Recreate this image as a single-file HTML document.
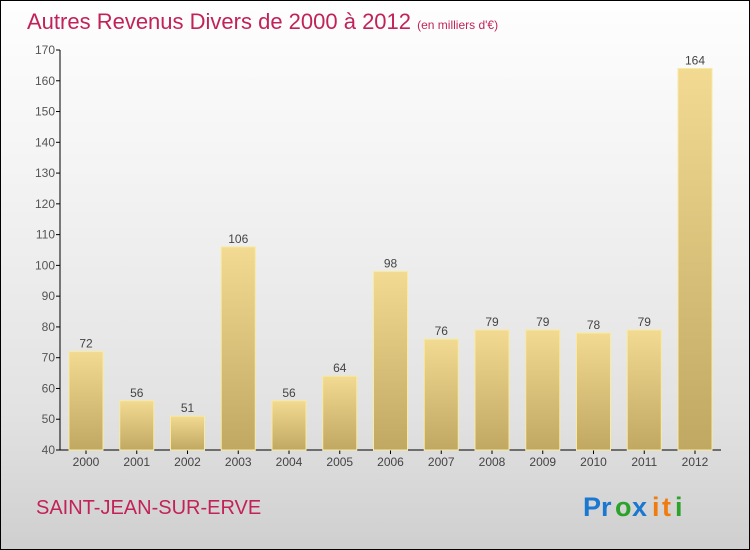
<!DOCTYPE html>
<html><head><meta charset="utf-8"><style>
body{margin:0}
#c{width:750px;height:550px;position:relative;overflow:hidden;box-sizing:border-box;border:1px solid #000;background:linear-gradient(#fefefe,#f4f4f4 30%,#e2e2e2 75%,#cfcfcf);font-family:"Liberation Sans",sans-serif}
</style></head><body>
<div id="c">
<svg width="750" height="550" style="position:absolute;left:-1px;top:-1px">
<defs><linearGradient id="g" x1="0" y1="0" x2="0" y2="1"><stop offset="0" stop-color="#f3da92"/><stop offset="1" stop-color="#c0a863"/></linearGradient></defs>
<text x="27" y="29" font-size="22" fill="#c2225a">Autres Revenus Divers de 2000 à 2012 <tspan font-size="12">(en milliers d'€)</tspan></text>
<g id="axes"></g><g id="bars"></g>
<text x="36" y="514" font-size="20" fill="#c2225a">SAINT-JEAN-SUR-ERVE</text>
<g font-size="27" font-weight="bold"><text x="583" y="516" fill="#1b78d0">Pr</text><text x="615" y="516" fill="#2ba32b">o</text><text x="632" y="516" fill="#1b78d0">x</text><text x="652" y="516" fill="#f07c10">i</text><text x="662" y="516" fill="#f07c10">t</text><text x="675" y="516" fill="#2ba32b">i</text></g>
</svg>
<script>
const years=["2000","2001","2002","2003","2004","2005","2006","2007","2008","2009","2010","2011","2012"];
const values=[72,56,51,106,56,64,98,76,79,79,78,79,164];
const ticks=[40,50,60,70,80,90,100,110,120,130,140,150,160,170];
const NS="http://www.w3.org/2000/svg";
const y=v=>450-(v-40)*400/130;
const x=i=>86+i*50.75;
function mk(t,a,p){const e=document.createElementNS(NS,t);for(const k in a)e.setAttribute(k,a[k]);p.appendChild(e);return e;}
const ax=document.getElementById('axes'),bg=document.getElementById('bars');
let l=mk('line',{x1:60,y1:50,x2:60,y2:450,stroke:'#000'},ax);


l=mk('line',{x1:60,y1:450,x2:721,y2:450,stroke:'#000'},ax);


ticks.forEach(t=>{mk('line',{x1:56,x2:60,y1:y(t),y2:y(t),stroke:'#000'},ax);
const tx=mk('text',{x:55,y:y(t)+4,'text-anchor':'end','font-size':12,fill:'#555'},ax);tx.textContent=t;

});
values.forEach((v,i)=>{const r=mk('rect',{x:x(i)-17,y:y(v),width:34,height:450-y(v),fill:'url(#g)',stroke:'#f8ea9e','stroke-width':1},bg);


const vt=mk('text',{x:x(i),y:y(v)-4,'text-anchor':'middle','font-size':12,fill:'#444'},bg);vt.textContent=v;


mk('line',{x1:x(i),x2:x(i),y1:450,y2:454,stroke:'#000'},ax);
const yt=mk('text',{x:x(i),y:466,'text-anchor':'middle','font-size':12,fill:'#444'},ax);yt.textContent=years[i];

});
</script>
</div></body></html>
